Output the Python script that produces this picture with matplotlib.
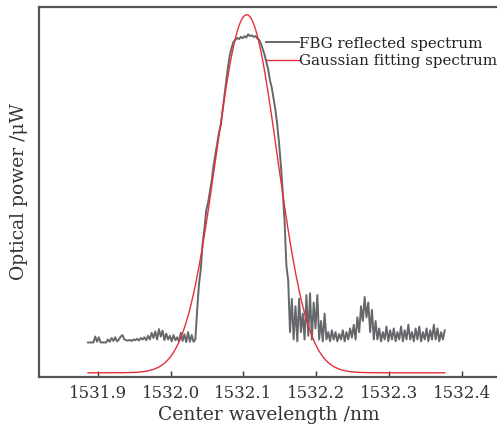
import numpy as np
import matplotlib
matplotlib.use("Agg")
import matplotlib.pyplot as plt

# measured FBG spectrum, sampled every 0.0025 nm from 1531.8865 nm
wl_start = 1531.8865
wl_step = 0.0025
fbg_power = [
    0.092, 0.092, 0.092, 0.092, 0.108, 0.094, 0.106, 0.092, 0.092, 0.092,
    0.092, 0.100, 0.094, 0.104, 0.096, 0.106, 0.095, 0.100, 0.108, 0.112,
    0.100, 0.098, 0.097, 0.099, 0.096, 0.100, 0.098, 0.102, 0.097, 0.104,
    0.100, 0.106, 0.098, 0.110, 0.100, 0.118, 0.104, 0.122, 0.100, 0.128,
    0.108, 0.124, 0.098, 0.116, 0.100, 0.110, 0.095, 0.112, 0.098, 0.106,
    0.094, 0.118, 0.096, 0.114, 0.093, 0.120, 0.094, 0.112, 0.094, 0.100,
    0.180, 0.250, 0.290, 0.360, 0.400, 0.450, 0.470, 0.500, 0.530, 0.570,
    0.600, 0.630, 0.660, 0.680, 0.720, 0.760, 0.800, 0.840, 0.870, 0.890,
    0.905, 0.910, 0.915, 0.912, 0.918, 0.914, 0.920, 0.916, 0.925, 0.920,
    0.922, 0.918, 0.920, 0.914, 0.910, 0.900, 0.885, 0.870, 0.850, 0.830,
    0.800, 0.780, 0.750, 0.720, 0.680, 0.630, 0.570, 0.500, 0.420, 0.300,
    0.260, 0.120, 0.210, 0.100, 0.190, 0.095, 0.210, 0.120, 0.170, 0.100,
    0.220, 0.110, 0.225, 0.100, 0.200, 0.130, 0.220, 0.100, 0.150, 0.095,
    0.170, 0.100, 0.120, 0.095, 0.125, 0.100, 0.120, 0.095, 0.115, 0.100,
    0.125, 0.095, 0.120, 0.100, 0.130, 0.105, 0.140, 0.100, 0.160, 0.120,
    0.190, 0.150, 0.215, 0.160, 0.200, 0.120, 0.180, 0.100, 0.150, 0.100,
    0.130, 0.095, 0.120, 0.100, 0.135, 0.095, 0.125, 0.100, 0.130, 0.095,
    0.120, 0.100, 0.135, 0.095, 0.125, 0.100, 0.140, 0.100, 0.120, 0.095,
    0.130, 0.100, 0.135, 0.095, 0.120, 0.100, 0.130, 0.095, 0.125, 0.100,
    0.140, 0.100, 0.130, 0.095, 0.120, 0.100, 0.125,
]

# Gaussian fit parameters
fit_center = 1532.1045
fit_sigma = 0.042
fit_amp = 0.968
fit_offset = 0.010

xticks = [1531.9, 1532.0, 1532.1, 1532.2, 1532.3, 1532.4]

wl = wl_start + wl_step * np.arange(len(fbg_power))
fit = fit_offset + fit_amp * np.exp(-((wl - fit_center) ** 2) / (2 * fit_sigma ** 2))

plt.rcParams["font.family"] = ["DejaVu Serif"]
plt.rcParams["mathtext.fontset"] = "dejavuserif"

fig = plt.figure(figsize=(4.97, 4.30), dpi=100)
ax = fig.add_axes([39 / 497, (430 - 376.5) / 430, 1 - 39 / 497 + 0.002, 370 / 430])

ax.plot(wl, fbg_power, color="#66676b", lw=1.4, label="FBG reflected spectrum")
ax.plot(wl, fit, color="#e5303c", lw=1.0, label="Gaussian fitting spectrum")

ax.set_xlim(1531.8193, 1532.4496)
ax.set_ylim(0, 1)
ax.set_xticks(xticks)
ax.set_xticklabels(["{:.1f}".format(t) for t in xticks])
ax.set_yticks([])
ax.tick_params(axis="x", direction="in", length=4, width=1, labelsize=12,
               colors="#333333", pad=6)
for side in ["left", "bottom", "top"]:
    ax.spines[side].set_linewidth(1.6)
    ax.spines[side].set_color("#555555")
ax.spines["right"].set_visible(False)

ax.set_xlabel("Center wavelength /nm", fontsize=13.5, color="#333333", labelpad=3)
ax.set_ylabel("Optical power /μW", fontsize=13.5, color="#333333", labelpad=8)

leg = ax.legend(loc="upper right", bbox_to_anchor=(1.012, 0.935), frameon=False,
                fontsize=10.8, handlelength=2.15, handletextpad=0.05,
                labelspacing=0.22, borderaxespad=0)
for t in leg.get_texts():
    t.set_color("#222222")

fig.savefig("out.png", dpi=100)
